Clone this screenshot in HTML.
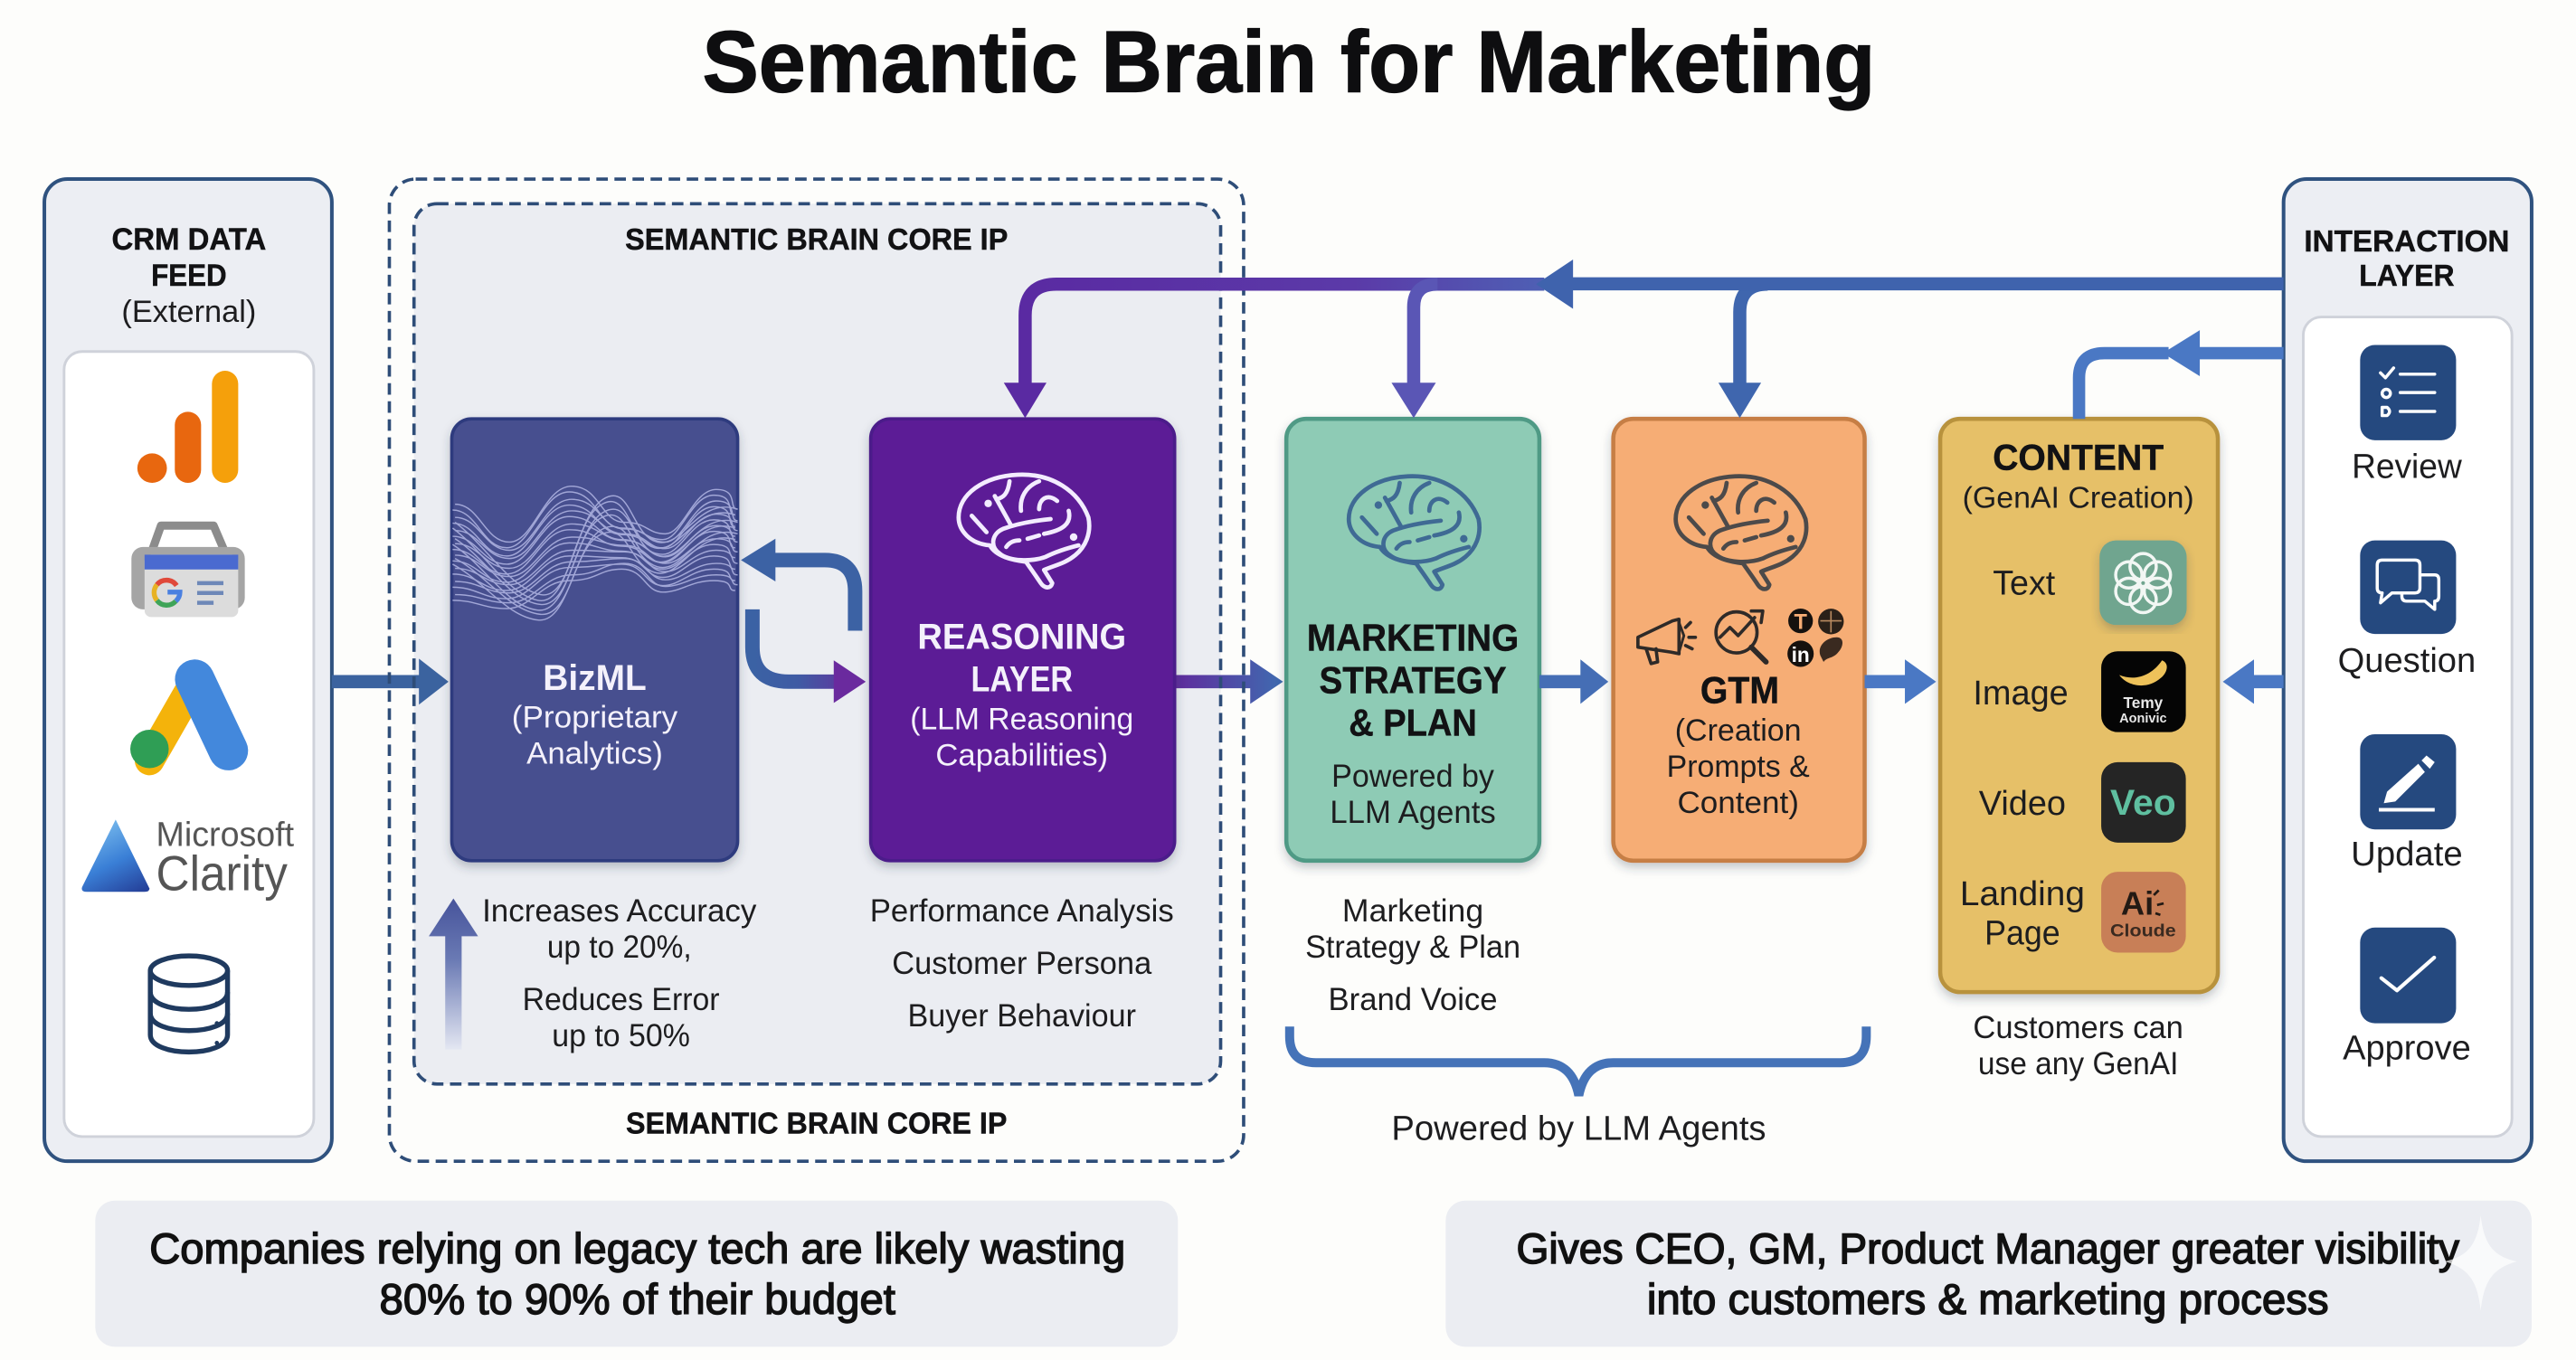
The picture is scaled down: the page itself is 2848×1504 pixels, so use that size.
<!DOCTYPE html>
<html lang="en">
<head>
<meta charset="utf-8">
<title>Semantic Brain for Marketing</title>
<style>
html,body{margin:0;padding:0;background:#fdfdfb;width:2848px;height:1504px;overflow:hidden}
svg{display:block}
text{font-family:"Liberation Sans",sans-serif;text-anchor:middle;fill:#1d1d1f}
.b{font-weight:700;fill:#121214;stroke:#121214;stroke-width:.25}
.w{fill:#f4f1fb;stroke:none}
.m{stroke:#111;stroke-width:.8;fill:#111}
</style>
</head>
<body>
<svg xmlns="http://www.w3.org/2000/svg" width="2848" height="1504" viewBox="0 0 1568 828">
<defs>
<filter id="sh" x="-10%" y="-10%" width="120%" height="120%"><feDropShadow dx="0" dy="3" stdDeviation="3" flood-color="#30354a" flood-opacity=".28"/></filter>
<linearGradient id="gLoop" x1="458" y1="0" x2="527" y2="0" gradientUnits="userSpaceOnUse"><stop offset="0" stop-color="#3b62a4"/><stop offset=".4" stop-color="#3f5ba4"/><stop offset="1" stop-color="#6a2a9e"/></linearGradient>
<linearGradient id="gOut" x1="716" y1="0" x2="781" y2="0" gradientUnits="userSpaceOnUse"><stop offset="0" stop-color="#5f2c9d"/><stop offset="1" stop-color="#3f6bb0"/></linearGradient>
<linearGradient id="gTop" x1="620" y1="0" x2="960" y2="0" gradientUnits="userSpaceOnUse"><stop offset="0" stop-color="#5a2aa2"/><stop offset=".6" stop-color="#5b3aa8"/><stop offset="1" stop-color="#4c66b6"/></linearGradient>
<linearGradient id="gUp" x1="0" y1="547" x2="0" y2="640" gradientUnits="userSpaceOnUse"><stop offset="0" stop-color="#46539b"/><stop offset=".4" stop-color="#6a7ab4"/><stop offset="1" stop-color="#e6e9f3"/></linearGradient>
<linearGradient id="gTri" x1="60" y1="505" x2="80" y2="545" gradientUnits="userSpaceOnUse"><stop offset="0" stop-color="#6fb2ea"/><stop offset=".5" stop-color="#3a7fd6"/><stop offset="1" stop-color="#26439c"/></linearGradient>
<g id="brain" fill="none" stroke="currentColor" stroke-width="2.6" stroke-linecap="round" stroke-linejoin="round">
<path d="M20 43C8 42 1 34 1 26C1 12 16 1 37 0C58-1 74 10 80 26C82 36 78 44 72 49C66 54 60 55 53 58L58 66C57 70 53 69 51 66C47 60 44 56 42 53C34 52 24 50 20 43Z"/>
<path d="M57 27C47 28 36 30 28 33C21 36 20 44 26 48C32 53 46 53 54 50C60 47 66 45 74 43"/>
<path d="M33 31L23 13M24 15C28 14 31 12 32 4M39 22C38 14 42 7 50 4M50 21C50 15 55 11 61 16M68 22C70 30 64 34 53 36M9 25L18 35M30 44C32 41 35 40 38 40M43 39L50 37"/>
<circle cx="19" cy="17.5" r="1" fill="currentColor"/><circle cx="71" cy="38" r="1" fill="currentColor"/>
</g>
<g id="wave" fill="none" stroke="#b9bdea" stroke-width=".8">
<path d="M277 307C292 307 295 330 310 330S331 296 348 296S366 318 380 318S394 325 405 325S422 298 436 298S443 310 449 310"/>
<path d="M277 315C292 315 295 335 310 335S331 304 348 304S366 322 380 322S394 330 405 330S422 305 436 305S443 317 449 317"/>
<path d="M277 323C292 323 295 340 310 340S331 311 348 311S366 325 380 325S394 334 405 334S422 313 436 313S443 323 449 323"/>
<path d="M277 331C292 331 295 346 310 346S331 319 348 319S366 329 380 329S394 339 405 339S422 320 436 320S443 330 449 330"/>
<path d="M277 338C292 338 295 351 310 351S331 327 348 327S366 332 380 332S394 343 405 343S422 328 436 328S443 336 449 336"/>
<path d="M277 346C292 346 295 356 310 356S331 335 348 335S366 336 380 336S394 348 405 348S422 335 436 335S443 343 449 343"/>
<path d="M277 354C292 354 295 361 310 361S331 342 348 342S366 340 380 340S394 353 405 353S422 343 436 343S443 350 449 350"/>
<path d="M277 362C292 362 295 367 310 367S331 350 348 350S366 343 380 343S394 357 405 357S422 350 436 350S443 356 449 356"/>
<path d="M277 340C296 350 310 372 329 374S350 330 367 322S384 340 400 345S425 318 449 325"/>
<path d="M277 328C296 340 310 366 329 368S350 322 367 312S384 332 400 338S425 310 449 318"/>
<path d="M277 318C296 332 310 358 329 362S350 315 367 304S384 326 400 330S425 302 449 310"/>
</g>
</defs>

<rect width="1568" height="828" fill="#fdfdfb"/>

<text x="784.500" y="56" class="b" font-size="53" textLength="714" lengthAdjust="spacingAndGlyphs" style="fill:#0e0e10;stroke:#0e0e10;stroke-width:.7">Semantic Brain for Marketing</text>

<!-- Side columns -->
<rect x="27" y="109" width="175" height="598" rx="14" fill="#eceef3" stroke="#2f527f" stroke-width="2.200"/>
<rect x="39" y="214" width="152" height="478" rx="11" fill="#fff" stroke="#cfd2da" stroke-width="1.600"/>
<rect x="1390" y="109" width="151" height="598" rx="14" fill="#eceef3" stroke="#2f527f" stroke-width="2.200"/>
<rect x="1402" y="193" width="127" height="499" rx="11" fill="#fff" stroke="#cfd2da" stroke-width="1.600"/>

<!-- Core panel fill -->
<rect x="252" y="124" width="491" height="536" rx="14" fill="#ebedf2"/>

<!-- Bottom panels -->
<rect x="58" y="731" width="659" height="89" rx="12" fill="#ebedf2"/>
<rect x="880" y="731" width="661" height="89" rx="12" fill="#ebedf2"/>

<!-- Straight arrows that dashes cross -->
<path d="M202 411H255V401L273 415L255 429V419H202Z" fill="#3b639f"/>
<path d="M716 411H761V401.500L781 415L761 428.500V419H716Z" fill="url(#gOut)"/>

<!-- Dashed frames -->
<rect x="237" y="109" width="520" height="598" rx="16" fill="none" stroke="#2e4d78" stroke-width="2" stroke-dasharray="7 4"/>
<rect x="252" y="124" width="491" height="536" rx="14" fill="none" stroke="#2e4d78" stroke-width="2" stroke-dasharray="7 4"/>

<!-- Main cards -->
<g filter="url(#sh)">
<rect x="275" y="255" width="174" height="269" rx="12" fill="#464f8f" stroke="#2f3a7e" stroke-width="2"/>
<rect x="530" y="255" width="185" height="269" rx="12" fill="#5b1f96" stroke="#4b1a8a" stroke-width="2"/>
<rect x="783" y="255" width="154" height="269" rx="12" fill="#8ecbb5" stroke="#4f9a85" stroke-width="2.500"/>
<rect x="982" y="255" width="153" height="269" rx="12" fill="#f6ad75" stroke="#c67e44" stroke-width="2.500"/>
<rect x="1181" y="255" width="169" height="349" rx="12" fill="#e6c068" stroke="#b8923e" stroke-width="2.500"/>
</g>

<!-- BizML wave -->
<g opacity=".8">
<use href="#wave"/>
<use href="#wave" transform="translate(-1.500 3.500)"/>
</g>

<text x="362" y="420" class="b w" font-size="22" textLength="63" lengthAdjust="spacingAndGlyphs">BizML</text>
<text x="362" y="443" class="w" font-size="19" textLength="101" lengthAdjust="spacingAndGlyphs">(Proprietary</text>
<text x="362" y="465" class="w" font-size="19" textLength="83" lengthAdjust="spacingAndGlyphs">Analytics)</text>

<!-- Loop arrows -->
<path d="M520.500 384V360Q520.500 341 502 341H468" fill="none" stroke="#3c62a4" stroke-width="8.800"/>
<path d="M451 341L472 328V354Z" fill="#3c62a4"/>
<path d="M458 371V394Q458 415 480 415H510" fill="none" stroke="url(#gLoop)" stroke-width="8.800"/>
<path d="M527 415L507.500 402V428Z" fill="#6a2a9e"/>

<!-- Reasoning -->
<use href="#brain" transform="translate(582.500 289)" style="color:#f3ecff"/>
<text x="622" y="395" class="b w" font-size="22" textLength="127" lengthAdjust="spacingAndGlyphs">REASONING</text>
<text x="622" y="421" class="b w" font-size="22" textLength="62" lengthAdjust="spacingAndGlyphs">LAYER</text>
<text x="622" y="444" class="w" font-size="19" textLength="136" lengthAdjust="spacingAndGlyphs">(LLM Reasoning</text>
<text x="622" y="466" class="w" font-size="19" textLength="105" lengthAdjust="spacingAndGlyphs">Capabilities)</text>

<!-- Marketing -->
<use href="#brain" transform="translate(820 290)" style="color:#3f6a94"/>
<text x="860" y="396" class="b" font-size="23" textLength="129" lengthAdjust="spacingAndGlyphs">MARKETING</text>
<text x="860" y="422" class="b" font-size="23" textLength="114" lengthAdjust="spacingAndGlyphs">STRATEGY</text>
<text x="860" y="448" class="b" font-size="23" textLength="78" lengthAdjust="spacingAndGlyphs">&amp; PLAN</text>
<text x="860" y="479" font-size="19.500" textLength="99" lengthAdjust="spacingAndGlyphs">Powered by</text>
<text x="860" y="501" font-size="19.500" textLength="101" lengthAdjust="spacingAndGlyphs">LLM Agents</text>

<!-- GTM -->
<use href="#brain" transform="translate(1019 290)" style="color:#4c4a4a"/>
<g fill="none" stroke="#2e2a28" stroke-width="2" stroke-linejoin="round" stroke-linecap="round">
<path d="M997 388L1018 378L1022 377V398L1017 397L997 394Z"/>
<path d="M1022 379L1025 387L1022 397" stroke-width="1.600"/>
<path d="M1002 395L1005 404L1009 403L1008 395"/>
<path d="M1026 382L1029 379M1028 388H1032M1026 393L1030 395"/>
<circle cx="1057" cy="385" r="12.500"/>
<path d="M1047 388L1053 382L1058 387L1068 376M1066 372L1073 372L1072 379"/>
<path d="M1066 394L1075 403" stroke-width="3.200"/>
</g>
<circle cx="1096" cy="378" r="7.500" fill="#15110e"/>
<text x="1096" y="383" font-size="13" class="b" style="fill:#f6ad75;stroke:none">T</text>
<circle cx="1114.500" cy="378.400" r="7.800" fill="#2a2018"/>
<path d="M1108 378H1121M1114.500 372V385" stroke="#b88a60" stroke-width=".9"/>
<circle cx="1096" cy="398" r="8" fill="#15110e"/>
<text x="1096" y="403" font-size="12.500" class="b" style="fill:#fff;stroke:none">in</text>
<path d="M1108 399C1106 393 1112 388 1118 388C1123 388 1122 394 1119 397C1116 401 1112 400 1110 403Z" fill="#3a2a20"/>
<text x="1059" y="428" class="b" font-size="23" textLength="48" lengthAdjust="spacingAndGlyphs">GTM</text>
<text x="1058" y="451" font-size="19" textLength="77" lengthAdjust="spacingAndGlyphs">(Creation</text>
<text x="1058" y="473" font-size="19" textLength="87" lengthAdjust="spacingAndGlyphs">Prompts &amp;</text>
<text x="1058" y="495" font-size="19" textLength="74" lengthAdjust="spacingAndGlyphs">Content)</text>

<!-- Marketing -> GTM -> Content, Interaction -> Content -->
<path d="M937 411H962V401.500L979 415L962 428.500V419H937Z" fill="#456eb5"/>
<path d="M1135 411H1159.500V401.500L1178.500 415L1159.500 428.500V419H1135Z" fill="#4a78c4"/>
<path d="M1390 411H1372V401.500L1353 415L1372 428.500V419H1390Z" fill="#4a78c4"/>

<!-- Top feedback lines -->
<path d="M624 234V192Q624 173 643 173H940" fill="none" stroke="url(#gTop)" stroke-width="8"/>
<path d="M624 254.500L611 233H637Z" fill="#5a2aa2"/>
<path d="M860.500 234V187Q860.500 173 875 173" fill="none" stroke="#5a56b5" stroke-width="8"/>
<path d="M860.500 254.500L847 233H874Z" fill="#5a56b5"/>
<path d="M1059 234V190Q1059 173 1076 173" fill="none" stroke="#3f66ae" stroke-width="8"/>
<path d="M1059 254.500L1046 233H1072Z" fill="#3f66ae"/>
<path d="M1390 168.800H957.500V158L935 173L957.500 188V176.800H1390Z" fill="#3f63ad"/>

<!-- Content arrow from interaction -->
<path d="M1390 215H1335" fill="none" stroke="#4a78c4" stroke-width="7.500"/>
<path d="M1316.500 215L1339 201V229Z" fill="#4a78c4"/>
<path d="M1320 215H1281Q1265.500 215 1265.500 230V255" fill="none" stroke="#4a78c4" stroke-width="7.500"/>

<!-- Content card -->
<text x="1265" y="286" class="b" font-size="22" textLength="104" lengthAdjust="spacingAndGlyphs">CONTENT</text>
<text x="1265" y="309" font-size="18.500" textLength="141" lengthAdjust="spacingAndGlyphs">(GenAI Creation)</text>
<text x="1232" y="362" font-size="21" textLength="38" lengthAdjust="spacingAndGlyphs">Text</text>
<text x="1230" y="429" font-size="21" textLength="58" lengthAdjust="spacingAndGlyphs">Image</text>
<text x="1231" y="496" font-size="21" textLength="53" lengthAdjust="spacingAndGlyphs">Video</text>
<text x="1231" y="551" font-size="21" textLength="76" lengthAdjust="spacingAndGlyphs">Landing</text>
<text x="1231" y="575" font-size="21" textLength="46" lengthAdjust="spacingAndGlyphs">Page</text>

<rect x="1278" y="329" width="53" height="51.500" rx="10" fill="#6fa58f" filter="url(#sh)"/>
<g fill="none" stroke="#f2f7f4" stroke-width="1.900" transform="translate(1304.500 355)">
<circle cx="0" cy="-10" r="8"/><circle cx="8.700" cy="-5" r="8"/><circle cx="8.700" cy="5" r="8"/><circle cx="0" cy="10" r="8"/><circle cx="-8.700" cy="5" r="8"/><circle cx="-8.700" cy="-5" r="8"/>
</g>
<rect x="1279" y="396.500" width="51.500" height="49.200" rx="10" fill="#050505"/>
<path d="M1290 411C1300 415 1310 411 1316 402C1321 404 1319 410 1315 413C1307 420 1295 418 1290 411Z" fill="#eec25a"/>
<text x="1304.500" y="431" font-size="9.500" class="b" style="fill:#e8e8e8;stroke:none">Temy</text>
<text x="1304.500" y="440" font-size="8" class="b" style="fill:#e8e8e8;stroke:none">Aonivic</text>
<rect x="1279" y="464" width="51.500" height="49" rx="10" fill="#252525"/>
<text x="1304.500" y="496" font-size="22" class="b" style="fill:#5fbfa0;stroke:none" textLength="40" lengthAdjust="spacingAndGlyphs">Veo</text>
<rect x="1279" y="530.800" width="51.500" height="49.200" rx="10" fill="#c87f57"/>
<text x="1301" y="557" font-size="20" class="b" style="fill:#231a14;stroke:none">Ai</text>
<path d="M1311 545L1314 542M1313 551L1317 550M1312 556L1315 557" stroke="#231a14" stroke-width="1.500"/>
<text x="1304.500" y="570" font-size="10.500" class="b" style="fill:#3a2a20;stroke:none" textLength="40" lengthAdjust="spacingAndGlyphs">Cloude</text>

<text x="1265" y="632" font-size="19.500" textLength="128" lengthAdjust="spacingAndGlyphs">Customers can</text>
<text x="1265" y="654" font-size="19.500" textLength="122" lengthAdjust="spacingAndGlyphs">use any GenAI</text>

<!-- Left column labels & icons -->
<text x="115" y="152" class="b" font-size="19" textLength="94" lengthAdjust="spacingAndGlyphs">CRM DATA</text>
<text x="115" y="174" class="b" font-size="19" textLength="46" lengthAdjust="spacingAndGlyphs">FEED</text>
<text x="115" y="196" font-size="19" textLength="82" lengthAdjust="spacingAndGlyphs">(External)</text>

<circle cx="92.600" cy="285" r="9" fill="#e8670f"/>
<rect x="106.400" y="250.700" width="16" height="43.300" rx="8" fill="#e8670f"/>
<rect x="129" y="225.700" width="16" height="68.300" rx="8" fill="#f5a00b"/>

<path d="M93 334L98 320H130L136 334" fill="none" stroke="#8c8c8c" stroke-width="5" stroke-linejoin="round"/>
<rect x="80" y="333" width="69" height="38" rx="7" fill="#a5a5a5"/>
<rect x="88" y="337.700" width="57" height="38" rx="4" fill="#dcdcdc"/>
<rect x="88" y="337.700" width="57" height="9" fill="#4a6ad0"/>
<path d="M107.500 356.500A7.500 7.500 0 0 0 95.500 356" fill="none" stroke="#e0493a" stroke-width="3"/>
<path d="M95.500 356A7.500 7.500 0 0 0 95.500 365.500" fill="none" stroke="#e7b224" stroke-width="3"/>
<path d="M95.500 365.500A7.500 7.500 0 0 0 107 366" fill="none" stroke="#3fa458" stroke-width="3"/>
<path d="M102 360.500H109.500A7.500 7.500 0 0 1 107 366" fill="none" stroke="#4a80e0" stroke-width="3"/>
<path d="M120 355H136M120 361H136M120 367H130" stroke="#6e88b8" stroke-width="2.500"/>

<path d="M118.500 415L91 463" stroke="#f4b30b" stroke-width="18" stroke-linecap="round"/>
<path d="M118.500 413.500L139 457" stroke="#4388dc" stroke-width="24" stroke-linecap="round"/>
<circle cx="91" cy="456" r="11.700" fill="#2f9e55"/>

<path d="M70.400 499L91 541Q91 543 88 543H53Q49 543 50 540Z" fill="url(#gTri)"/>
<text x="137" y="515" font-size="21" style="fill:#555" textLength="84" lengthAdjust="spacingAndGlyphs">Microsoft</text>
<text x="135" y="542" font-size="30" style="fill:#555" textLength="80" lengthAdjust="spacingAndGlyphs">Clarity</text>

<g fill="none" stroke="#1f3a5f" stroke-width="3">
<ellipse cx="115" cy="591" rx="23.500" ry="9"/>
<path d="M91.500 591V630C91.500 644 138.500 644 138.500 630V591"/>
<path d="M91.500 604C91.500 618 138.500 618 138.500 604M91.500 617C91.500 631 138.500 631 138.500 617"/>
</g>
<circle cx="132" cy="611" r="1.300" fill="#1f3a5f"/><circle cx="132" cy="623" r="1.300" fill="#1f3a5f"/><circle cx="132" cy="635" r="1.300" fill="#1f3a5f"/>

<!-- Core labels -->
<text x="497" y="152" class="b" font-size="18.500" textLength="233" lengthAdjust="spacingAndGlyphs">SEMANTIC BRAIN CORE IP</text>
<text x="497" y="690" class="b" font-size="18.500" textLength="232" lengthAdjust="spacingAndGlyphs">SEMANTIC BRAIN CORE IP</text>

<path d="M276 547L291 570H281V639H271V570H261Z" fill="url(#gUp)"/>
<text x="377" y="561" font-size="19.500" textLength="167" lengthAdjust="spacingAndGlyphs">Increases Accuracy</text>
<text x="377" y="583" font-size="19.500" textLength="88" lengthAdjust="spacingAndGlyphs">up to 20%,</text>
<text x="378" y="615" font-size="19.500" textLength="120" lengthAdjust="spacingAndGlyphs">Reduces Error</text>
<text x="378" y="637" font-size="19.500" textLength="84" lengthAdjust="spacingAndGlyphs">up to 50%</text>

<text x="622" y="561" font-size="19.500" textLength="185" lengthAdjust="spacingAndGlyphs">Performance Analysis</text>
<text x="622" y="593" font-size="19.500" textLength="158" lengthAdjust="spacingAndGlyphs">Customer Persona</text>
<text x="622" y="625" font-size="19.500" textLength="139" lengthAdjust="spacingAndGlyphs">Buyer Behaviour</text>

<text x="860" y="561" font-size="19.500" textLength="86" lengthAdjust="spacingAndGlyphs">Marketing</text>
<text x="860" y="583" font-size="19.500" textLength="131" lengthAdjust="spacingAndGlyphs">Strategy &amp; Plan</text>
<text x="860" y="615" font-size="19.500" textLength="103" lengthAdjust="spacingAndGlyphs">Brand Voice</text>

<!-- Brace -->
<path d="M785 625V631Q785 647 801 647H940Q957 647 961 667Q965 647 982 647H1120Q1136 647 1136 631V625" fill="none" stroke="#4573b8" stroke-width="5.500"/>
<text x="961" y="694" font-size="21" textLength="228" lengthAdjust="spacingAndGlyphs">Powered by LLM Agents</text>

<!-- Interaction -->
<text x="1465" y="153" class="b" font-size="18.500" textLength="125" lengthAdjust="spacingAndGlyphs">INTERACTION</text>
<text x="1465" y="174" class="b" font-size="18.500" textLength="58" lengthAdjust="spacingAndGlyphs">LAYER</text>

<rect x="1436.600" y="210" width="58.400" height="58" rx="9" fill="#25497f"/>
<g fill="none" stroke="#fff" stroke-width="1.900" stroke-linecap="round" stroke-linejoin="round">
<path d="M1461 227.800H1482M1461 239H1482M1461 250.500H1482"/>
<path d="M1449 227L1452 230L1457 224"/>
<circle cx="1452.500" cy="239.500" r="2.500"/>
<path d="M1450 248H1453Q1456 250.500 1453 253H1450Z"/>
</g>
<text x="1465" y="291" font-size="21" textLength="67" lengthAdjust="spacingAndGlyphs">Review</text>

<rect x="1436.600" y="329" width="58.400" height="57" rx="9" fill="#25497f"/>
<g fill="none" stroke="#fff" stroke-width="1.900" stroke-linejoin="round">
<path d="M1450 341H1470Q1473 341 1473 344V358Q1473 361 1470 361H1456L1449 367L1450 361Q1447 361 1447 358V344Q1447 341 1450 341Z"/>
<path d="M1473 350H1482Q1484.500 350 1484.500 353V363Q1484.500 366 1482 366V371L1476 366H1465Q1462 366 1462 363V361"/>
</g>
<text x="1465" y="409" font-size="21" textLength="84" lengthAdjust="spacingAndGlyphs">Question</text>

<rect x="1436.600" y="447" width="58.400" height="58" rx="9" fill="#25497f"/>
<path d="M1453 482L1472 465L1476 470L1458 488L1451 489Z" fill="#fff"/>
<path d="M1474 463L1477 460L1482 464L1479 468Z" fill="#fff"/>
<path d="M1448 493H1482" stroke="#fff" stroke-width="2.200"/>
<text x="1465" y="527" font-size="21" textLength="68" lengthAdjust="spacingAndGlyphs">Update</text>

<rect x="1436.600" y="564.700" width="58.400" height="58.300" rx="9" fill="#25497f"/>
<path d="M1449.500 595.500L1459 603L1481.700 583" fill="none" stroke="#fff" stroke-width="2.300" stroke-linecap="round" stroke-linejoin="round"/>
<text x="1465" y="645" font-size="21" textLength="78" lengthAdjust="spacingAndGlyphs">Approve</text>

<!-- Bottom text -->
<text x="388" y="769" class="m" font-size="26" textLength="594" lengthAdjust="spacingAndGlyphs">Companies relying on legacy tech are likely wasting</text>
<text x="388" y="800" class="m" font-size="26" textLength="314" lengthAdjust="spacingAndGlyphs">80% to 90% of their budget</text>
<text x="1210" y="769" class="m" font-size="26" textLength="574" lengthAdjust="spacingAndGlyphs">Gives CEO, GM, Product Manager greater visibility</text>
<text x="1210" y="800" class="m" font-size="26" textLength="415" lengthAdjust="spacingAndGlyphs">into customers &amp; marketing process</text>

<!-- Sparkle -->
<path d="M1510 740C1512 758 1518 765 1532 768C1518 772 1512 779 1510 798C1508 779 1502 772 1488 768C1502 765 1508 758 1510 740Z" fill="#fff" opacity=".7"/>
</svg>
</body>
</html>
